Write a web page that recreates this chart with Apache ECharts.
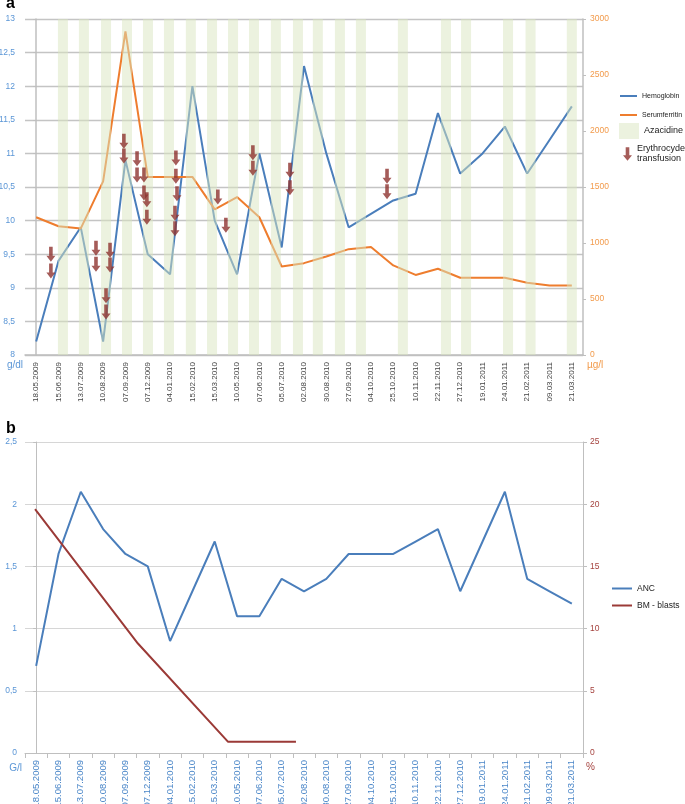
<!DOCTYPE html>
<html><head><meta charset="utf-8">
<script src="https://cdn.jsdelivr.net/npm/echarts@6/dist/echarts.min.js"></script>
<style>html,body{margin:0;padding:0;background:#fff}#c{width:685px;height:804px}</style>
</head><body><div id="c"></div>
<script>
// ---- data ----
const dates = ['18.05.2009','15.06.2009','13.07.2009','10.08.2009','07.09.2009','07.12.2009','04.01.2010','15.02.2010','15.03.2010','10.05.2010','07.06.2010','05.07.2010','02.08.2010','30.08.2010','27.09.2010','04.10.2010','25.10.2010','10.11.2010','22.11.2010','27.12.2010','19.01.2011','24.01.2011','21.02.2011','09.03.2011','21.03.2011'];
const hemoglobin = [8.2, 9.4, 9.9, 8.2, 10.9, 9.5, 9.2, 12.0, 10.0, 9.2, 11.0, 9.6, 12.3, 11.0, 9.9, 10.1, 10.3, 10.4, 11.6, 10.7, 11.0, 11.4, 10.7, 11.2, 11.7];
const serumferritin = [1230, 1150, 1130, 1550, 2890, 1590, 1590, 1590, 1300, 1410, 1230, 790, 820, 880, 945, 965, 800, 715, 770, 690, 690, 690, 645, 620, 620];
// azacidine cycles: position in category units (0 = first date)
const azacidinePos = [1.20, 2.14, 3.13, 4.07, 5.01, 5.95, 6.93, 7.88, 8.82, 9.76, 10.74, 11.73, 12.62, 13.61, 14.55, 16.43, 18.36, 19.26, 21.14, 22.15, 24.0];
const azacidineTop = 3000;
// erythrocyte transfusions: [position in category units, hemoglobin-scale height]
const transfusions = [[0.66,9.50],[0.66,9.25],[2.68,9.59],[2.68,9.35],[3.31,9.56],[3.31,9.34],[3.13,8.88],[3.13,8.64],[3.93,11.18],[3.93,10.96],[4.52,10.92],[4.52,10.68],[4.83,10.68],[4.83,10.41],[4.96,10.31],[4.96,10.05],[6.26,10.93],[6.26,10.66],[6.31,10.40],[6.22,10.11],[6.22,9.88],[8.14,10.35],[8.50,9.93],[9.71,11.01],[9.71,10.78],[11.37,10.75],[11.37,10.49],[15.72,10.66],[15.72,10.43]];
const anc = [0.7, 1.6, 2.1, 1.8, 1.6, 1.5, 0.9, 1.3, 1.7, 1.1, 1.1, 1.4, 1.3, 1.4, 1.6, 1.6, 1.6, 1.7, 1.8, 1.3, 1.7, 2.1, 1.4, 1.3, 1.2];
// BM blasts: [position in category units, %]
const blastsPos = [-0.05, 4.56, 8.6, 11.64];
const blastsVal = [19.6, 8.8, 0.9, 0.9];

// ---- chart ----
const chart = echarts.init(document.getElementById('c'));
const comma = v => String(v).replace('.', ',');
const plain = v => String(v);
const arrowPath = 'path://M3,0 L7,0 L7,9 L10,9 L5,15 L0,9 L3,9 Z';
const FONT = '"Liberation Sans", Arial, sans-serif';
const GRID_A = '#c4c4c4', GRID_B = '#d6d6d6', AXIS = '#bfbfbf';
const BLUE = '#4a7ebb', ORANGE = '#ee7d2e', RED = '#9b3a37', ARROW = '#8f3330';
const LBLUE = '#5b96d6', LORANGE = '#f29b4c', LRED = '#a5433f';

const option = {
  animation: false,
  textStyle: { fontFamily: FONT },
  title: [
    { text: 'a', left: 6, top: -4, padding: 0, textStyle: { fontSize: 16, fontWeight: 'bold', color: '#000', fontFamily: FONT } },
    { text: 'b', left: 6, top: 421, padding: 0, textStyle: { fontSize: 16, fontWeight: 'bold', color: '#000', fontFamily: FONT } }
  ],
  graphic: [
    { type: 'text', right: 662, top: 360, style: { text: 'g/dl', fill: LBLUE, font: '10px "Liberation Sans", Arial, sans-serif' } },
    { type: 'text', right: 663, top: 763, style: { text: 'G/l', fill: LBLUE, font: '10px "Liberation Sans", Arial, sans-serif' } }
  ],
  legend: [
    { data: ['Hemoglobin'], left: 620, top: 91, padding: 0, icon: 'rect', itemWidth: 17, itemHeight: 2, textStyle: { fontSize: 7, color: '#222', lineHeight: 10 } },
    { data: ['Serumferritin'], left: 620, top: 110, padding: 0, icon: 'rect', itemWidth: 17, itemHeight: 2, textStyle: { fontSize: 7, color: '#222', lineHeight: 10 } },
    { data: [{ name: 'Azacidine', icon: 'rect' }], left: 619, top: 123, padding: 0, itemWidth: 20, itemHeight: 16, textStyle: { fontSize: 9, color: '#222' } },
    { data: [{ name: 'Erythrocyde transfusion', icon: arrowPath }], left: 623, top: 144, padding: 0, itemWidth: 9, itemHeight: 14, formatter: () => 'Erythrocyde\ntransfusion', textStyle: { fontSize: 9, color: '#222', lineHeight: 10 } },
    { data: ['ANC', 'BM - blasts'], left: 612, top: 583, padding: 0, orient: 'vertical', itemGap: 6, icon: 'rect', itemWidth: 20, itemHeight: 2, textStyle: { fontSize: 8.5, color: '#222', lineHeight: 11 } }
  ],
  grid: [
    { left: 25, right: 102, top: 19, bottom: 449, containLabel: false, outerBoundsMode: 'none' },
    { left: 25, right: 102, top: 442, bottom: 51, containLabel: false, outerBoundsMode: 'none' }
  ],
  xAxis: [
    { type: 'category', gridIndex: 0, data: dates, boundaryGap: true,
      axisLine: { lineStyle: { color: AXIS, width: 1.5 } }, axisTick: { show: false },
      axisLabel: { rotate: 90, fontSize: 8, color: '#444', margin: 7, interval: 0 } },
    { type: 'value', gridIndex: 0, min: -0.5, max: 24.5, show: false },
    { type: 'category', gridIndex: 1, data: dates, boundaryGap: true,
      axisLine: { lineStyle: { color: AXIS } }, axisTick: { show: true, length: 5, interval: 0, lineStyle: { color: AXIS } },
      axisLabel: { rotate: 90, fontSize: 9.5, color: '#4a86c8', margin: 7, interval: 0 } },
    { type: 'value', gridIndex: 1, min: -0.5, max: 24.5, show: false }
  ],
  yAxis: [
    { type: 'value', gridIndex: 0, position: 'left', min: 8, max: 13, interval: 0.5,
      axisLine: { show: true, lineStyle: { color: AXIS, width: 1.5 } }, axisTick: { show: true, length: 3, lineStyle: { color: AXIS } },
      splitLine: { lineStyle: { color: GRID_A, width: 1.3 } },
      axisLabel: { color: LBLUE, fontSize: 8.5, margin: 10, formatter: comma } },
    { type: 'value', gridIndex: 0, position: 'right', min: 0, max: 3000, interval: 500,
      axisLine: { show: true, lineStyle: { color: AXIS, width: 1.5 } }, axisTick: { show: true, length: 3, lineStyle: { color: AXIS } },
      splitLine: { show: false },
      axisLabel: { color: LORANGE, fontSize: 8.5, margin: 7, formatter: plain },
      name: 'µg/l', nameLocation: 'start', nameGap: 5, nameMoveOverlap: false,
      nameTextStyle: { color: LORANGE, fontSize: 10, align: 'left', verticalAlign: 'top', padding: [0, 0, 0, 4] } },
    { type: 'value', gridIndex: 1, position: 'left', min: 0, max: 2.5, interval: 0.5,
      axisLine: { show: true, lineStyle: { color: AXIS } }, axisTick: { show: true, length: 3, lineStyle: { color: AXIS } },
      splitLine: { lineStyle: { color: GRID_B, width: 1 } },
      axisLabel: { color: LBLUE, fontSize: 8.5, margin: 8, formatter: comma } },
    { type: 'value', gridIndex: 1, position: 'right', min: 0, max: 25, interval: 5,
      axisLine: { show: true, lineStyle: { color: AXIS } }, axisTick: { show: true, length: 4, lineStyle: { color: AXIS } },
      splitLine: { show: false },
      axisLabel: { color: LRED, fontSize: 8.5, margin: 7, formatter: plain },
      name: '%', nameLocation: 'start', nameGap: 9, nameMoveOverlap: false,
      nameTextStyle: { color: LRED, fontSize: 10, align: 'left', verticalAlign: 'top', padding: [0, 0, 0, 3] } }
  ],
  series: [
    { name: 'Hemoglobin', type: 'line', xAxisIndex: 0, yAxisIndex: 0, data: hemoglobin, showSymbol: false, symbol: 'none',
      lineStyle: { color: BLUE, width: 2 }, itemStyle: { color: BLUE }, z: 2 },
    { name: 'Serumferritin', type: 'line', xAxisIndex: 0, yAxisIndex: 1, data: serumferritin, showSymbol: false, symbol: 'none',
      lineStyle: { color: ORANGE, width: 2 }, itemStyle: { color: ORANGE }, z: 2 },
    { name: 'Azacidine', type: 'bar', xAxisIndex: 1, yAxisIndex: 1, barWidth: 10,
      data: azacidinePos.map(p => [p, azacidineTop]),
      itemStyle: { color: '#dae5bf', opacity: 0.5 }, z: 3 },
    { name: 'Erythrocyde transfusion', type: 'scatter', xAxisIndex: 1, yAxisIndex: 0, data: transfusions,
      symbol: arrowPath, symbolSize: [9, 15], itemStyle: { color: ARROW }, z: 5 },
    { name: 'ANC', type: 'line', xAxisIndex: 2, yAxisIndex: 2, data: anc, showSymbol: false, symbol: 'none',
      lineStyle: { color: BLUE, width: 2 }, itemStyle: { color: BLUE }, z: 2 },
    { name: 'BM - blasts', type: 'line', xAxisIndex: 3, yAxisIndex: 3, data: blastsPos.map((p, i) => [p, blastsVal[i]]), showSymbol: false, symbol: 'none',
      lineStyle: { color: RED, width: 2 }, itemStyle: { color: RED }, z: 2 }
  ]
};
chart.setOption(option);
</script>
</body></html>
